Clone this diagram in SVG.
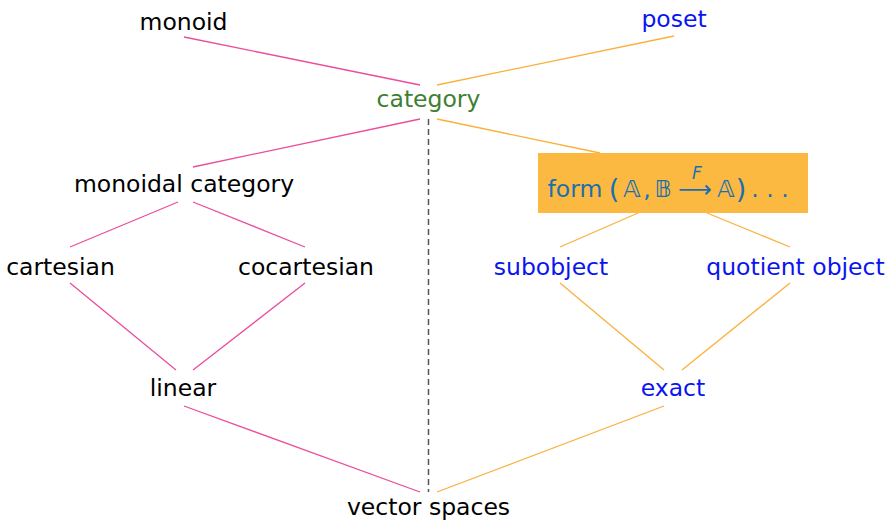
<svg xmlns="http://www.w3.org/2000/svg" width="892" height="520" viewBox="0 0 892 520">
  <style>
    text { font-family: "DejaVu Sans", "Liberation Sans", sans-serif; font-size: 23.5px; text-anchor: middle; fill: #000; }
    .blue { fill: #0a14f0; }
    .green { fill: #3d8030; }
    .form { fill: #1b6fb0; }
    .paren { font-size: 27px; }
    .pink { stroke: #ec4c9c; stroke-width: 1.3; fill: none; }
    .orange { stroke: #fbb03b; stroke-width: 1.3; fill: none; }
    .dash { stroke: #555; stroke-width: 1.5; stroke-dasharray: 6 4; fill: none; }
  </style>

  <g id="connectors">
    <line class="pink" x1="184" y1="37" x2="420" y2="85"/>
    <line class="orange" x1="674" y1="36" x2="437" y2="85"/>
    <line class="pink" x1="420" y1="119" x2="193" y2="167"/>
    <line class="orange" x1="437" y1="119" x2="600" y2="153"/>
    <line class="pink" x1="178" y1="202" x2="70" y2="247"/>
    <line class="pink" x1="193" y1="202" x2="305" y2="247"/>
    <line class="orange" x1="638" y1="213" x2="560" y2="247"/>
    <line class="orange" x1="707" y1="213" x2="790" y2="247"/>
    <line class="pink" x1="70" y1="283" x2="176" y2="370"/>
    <line class="pink" x1="305" y1="283" x2="193" y2="370"/>
    <line class="orange" x1="560" y1="283" x2="664" y2="370"/>
    <line class="orange" x1="790" y1="283" x2="682" y2="370"/>
    <line class="pink" x1="184" y1="406" x2="420" y2="492"/>
    <line class="orange" x1="664" y1="406" x2="437" y2="492"/>
    <line class="dash" x1="428.5" y1="119" x2="428.5" y2="492"/>
  </g>

  <g id="monoid"><text x="183.5" y="30">monoid</text></g>
  <g id="poset"><text class="blue" x="674" y="27">poset</text></g>
  <g id="category"><text class="green" x="428.5" y="107">category</text></g>
  <g id="monoidal-category"><text x="184" y="192">monoidal category</text></g>
  <g id="form">
    <rect x="538" y="153" width="270" height="60" fill="#fbb941"/>
    <text class="form" x="575" y="197">form</text>
    <text class="form paren" x="614" y="198">(</text>
    <text class="form" x="632" y="197">𝔸</text>
    <text class="form" x="647" y="197">,</text>
    <text class="form" x="663" y="197">𝔹</text>
    <text class="form" x="695" y="197">⟶</text>
    <text class="form" x="697" y="179" style="font-size:17px;font-style:italic">F</text>
    <text class="form" x="726" y="197">𝔸</text>
    <text class="form paren" x="741" y="198">)</text>
    <text class="form" x="770" y="197">. . .</text>
  </g>
  <g id="cartesian"><text x="60.5" y="275">cartesian</text></g>
  <g id="cocartesian"><text x="306" y="275">cocartesian</text></g>
  <g id="subobject"><text class="blue" x="551" y="275">subobject</text></g>
  <g id="quotient-object"><text class="blue" x="795.5" y="275">quotient object</text></g>
  <g id="linear"><text x="183" y="396">linear</text></g>
  <g id="exact"><text class="blue" x="673" y="396">exact</text></g>
  <g id="vector-spaces"><text x="428.5" y="515">vector spaces</text></g>
</svg>
